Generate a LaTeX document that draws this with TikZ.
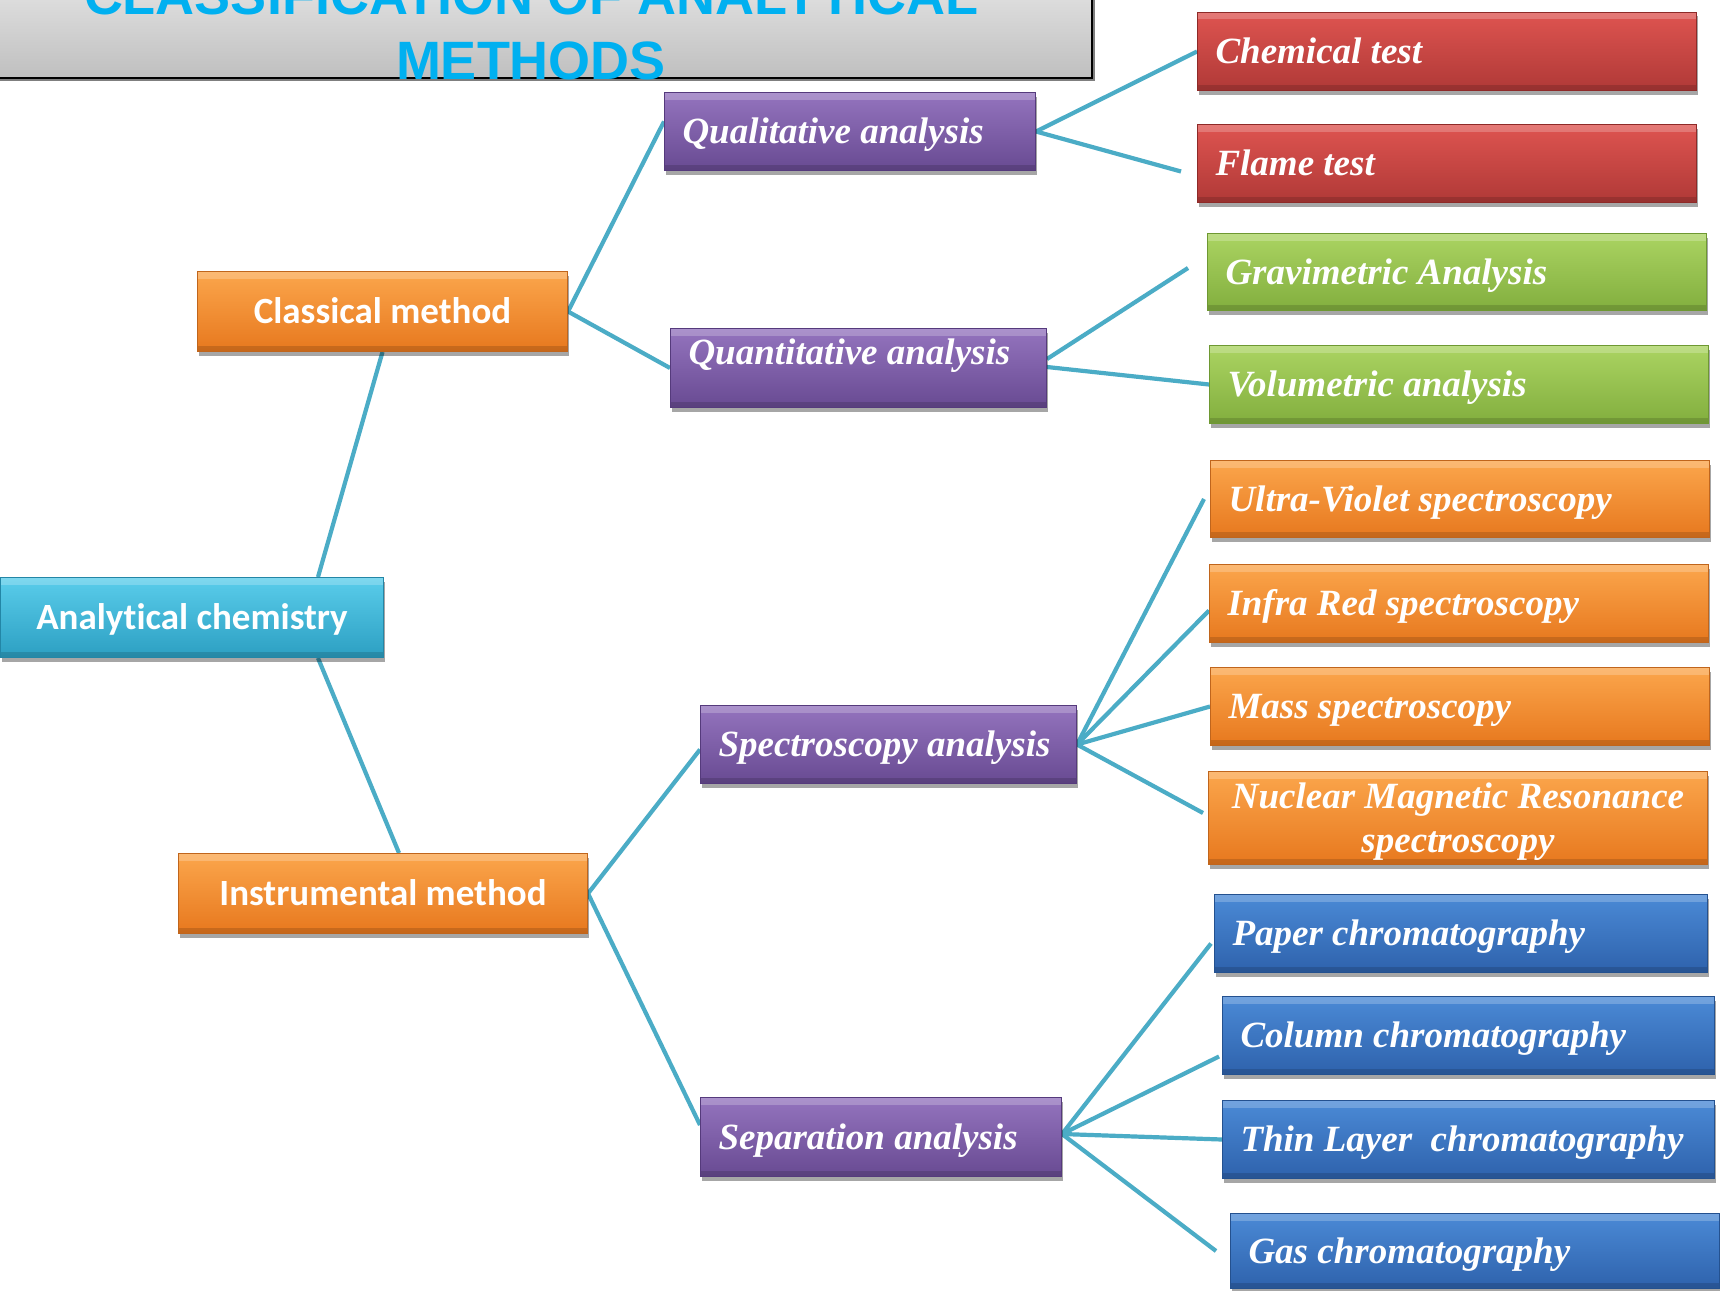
\documentclass[tikz,border=0pt]{standalone}
\usepackage{fontspec}
\setmainfont{Liberation Serif}
\newfontfamily\carl[Ligatures=NoCommon]{Carlito}
\newfontfamily\arl{Liberation Sans}
\usetikzlibrary{shadows,backgrounds}
\definecolor{linec}{HTML}{4BACC6}
\definecolor{titlec}{HTML}{00B0F0}
\definecolor{orT}{HTML}{FBA64C}\definecolor{orB}{HTML}{E7781E}\definecolor{orD}{HTML}{C0651C}
\definecolor{cyT}{HTML}{5ACDEB}\definecolor{cyB}{HTML}{2C9FC2}\definecolor{cyD}{HTML}{2386A6}
\definecolor{puT}{HTML}{9474BE}\definecolor{puB}{HTML}{684A92}\definecolor{puD}{HTML}{553A7C}
\definecolor{reT}{HTML}{DE5450}\definecolor{reB}{HTML}{B03937}\definecolor{reD}{HTML}{8E2A28}
\definecolor{grT}{HTML}{ABD462}\definecolor{grB}{HTML}{82AE3E}\definecolor{grD}{HTML}{6E9832}
\definecolor{blT}{HTML}{4B8AD6}\definecolor{blB}{HTML}{2E62AC}\definecolor{blD}{HTML}{24518F}
\tikzset{
  bx/.style={rectangle, anchor=north west, inner xsep=18pt, inner ysep=0pt, text=white,
    line width=1pt,
    drop shadow={shadow xshift=1.5pt, shadow yshift=-4pt, opacity=0.35, fill=black},
    path picture={
      \fill[white,opacity=0.22] (path picture bounding box.north west) rectangle ([yshift=-7pt]path picture bounding box.north east);
      \fill[black,opacity=0.14] (path picture bounding box.south west) rectangle ([yshift=6pt]path picture bounding box.south east);
    }},
  orangebox/.style={top color=orT, bottom color=orB, draw=orD},
  cyanbox/.style={top color=cyT, bottom color=cyB, draw=cyD},
  purplebox/.style={top color=puT, bottom color=puB, draw=puD},
  redbox/.style={top color=reT, bottom color=reB, draw=reD},
  greenbox/.style={top color=grT, bottom color=grB, draw=grD},
  bluebox/.style={top color=blT, bottom color=blB, draw=blD},
  serifit/.style={font=\bfseries\itshape\fontsize{37}{44}\selectfont, text height=24.5pt, text depth=0pt},
  sansb/.style={font=\carl\bfseries\fontsize{37}{44}\selectfont, text height=23.4pt, text depth=0pt, align=center},
  leaf/.style={bx, serifit, minimum height=78pt, text width=463pt, align=flush left},
  mid/.style={bx, serifit, minimum height=78pt, align=flush left},
  top/.style={bx, sansb, minimum height=80pt},
  conn/.style={draw=linec, line width=4.2pt},
}
\begin{document}
\begin{tikzpicture}[x=1pt,y=-1pt]
\useasboundingbox (0,0) rectangle (1720,1290);
\begin{pgfonlayer}{background}
\fill[white] (0,0) rectangle (1720,1290);
\end{pgfonlayer}

% title
\node[rectangle, anchor=north west, minimum width=1111pt, minimum height=97pt, inner sep=0pt,
  top color=gray!22, bottom color=gray!50, draw=black, line width=1.8pt,
  drop shadow={shadow xshift=3pt, shadow yshift=-3pt, opacity=0.5, fill=black}] (tbox) at (-20,-20) {};
\node[anchor=south, inner sep=0pt, text depth=0pt, align=center, text=titlec,
  font=\arl\bfseries\fontsize{54}{65}\selectfont] (title) at (531,80) {CLASSIFICATION OF ANALYTICAL\\METHODS};

% left column
\node[top, cyanbox, minimum width=383pt] (ac) at (0,577) {Analytical chemistry};
\node[top, orangebox, minimum width=370pt] (cl) at (197,271) {Classical method};
\node[top, orangebox, minimum width=409pt] (im) at (178,853) {Instrumental method};

% middle column
\node[mid, purplebox, text width=335pt] (ql) at (664,92) {Qualitative analysis};
\node[mid, purplebox, text width=340pt, text depth=32pt, minimum height=79pt] (qn) at (670,328) {Quantitative analysis};
\node[mid, purplebox, text width=340pt] (sp) at (700,705) {\mbox{Spectroscopy analysis}};
\node[mid, purplebox, text width=325pt, minimum height=79pt] (se) at (700,1097) {Separation analysis};

% right column
\node[leaf, redbox] (ch) at (1197,12) {Chemical test};
\node[leaf, redbox] (fl) at (1197,124) {Flame test};
\node[leaf, greenbox, minimum height=77pt] (gr) at (1207,233) {Gravimetric Analysis};
\node[leaf, greenbox] (vo) at (1209,345) {Volumetric analysis};
\node[leaf, orangebox, minimum height=77pt] (uv) at (1210,460) {Ultra-Violet spectroscopy};
\node[leaf, orangebox] (ir) at (1209,564) {Infra Red spectroscopy};
\node[leaf, orangebox] (ms) at (1210,667) {Mass spectroscopy};
\node[leaf, orangebox, minimum height=93pt, inner xsep=5pt, text width=489pt, align=flush center, text depth=44pt] (nmr) at (1208,771) {Nuclear Magnetic Resonance\\spectroscopy};
\node[leaf, bluebox, text width=457pt] (pa) at (1214,894) {Paper chromatography};
\node[leaf, bluebox, text width=456pt] (co) at (1222,996) {Column chromatography};
\node[leaf, bluebox, text width=456pt] (tl) at (1222,1100) {\mbox{Thin Layer~ chromatography}};
\node[leaf, bluebox, text width=453pt, minimum height=75pt] (ga) at (1230,1213) {Gas chromatography};

% connectors
\begin{pgfonlayer}{background}
\draw[conn] ([xshift=126pt]ac.north) -- (cl.south);
\draw[conn] ([xshift=126pt]ac.south) -- ([xshift=16pt]im.north);
\draw[conn] (cl.east) -- ([yshift=10pt]ql.west);
\draw[conn] (cl.east) -- (qn.west);
\draw[conn] (ql.east) -- (ch.west);
\draw[conn] (ql.east) -- ([xshift=-16pt,yshift=-8pt]fl.west);
\draw[conn] ([yshift=9pt]qn.east) -- ([xshift=-19pt,yshift=4pt]gr.west);
\draw[conn] ([yshift=1pt]qn.east) -- (vo.west);
\draw[conn] (im.east) -- ([yshift=-5pt]sp.west);
\draw[conn] (im.east) -- ([yshift=12pt]se.west);
\draw[conn] (sp.east) -- ([xshift=-6pt]uv.west);
\draw[conn] (sp.east) -- ([yshift=-7pt]ir.west);
\draw[conn] (sp.east) -- (ms.west);
\draw[conn] (sp.east) -- ([xshift=-5pt,yshift=5pt]nmr.west);
\draw[conn] ([yshift=3pt]se.east) -- ([xshift=-3pt,yshift=-10pt]pa.west);
\draw[conn] ([yshift=3pt]se.east) -- ([xshift=-3pt,yshift=-21pt]co.west);
\draw[conn] ([yshift=3pt]se.east) -- (tl.west);
\draw[conn] ([yshift=3pt]se.east) -- ([xshift=-14pt]ga.west);
\end{pgfonlayer}
\end{tikzpicture}
\end{document}
